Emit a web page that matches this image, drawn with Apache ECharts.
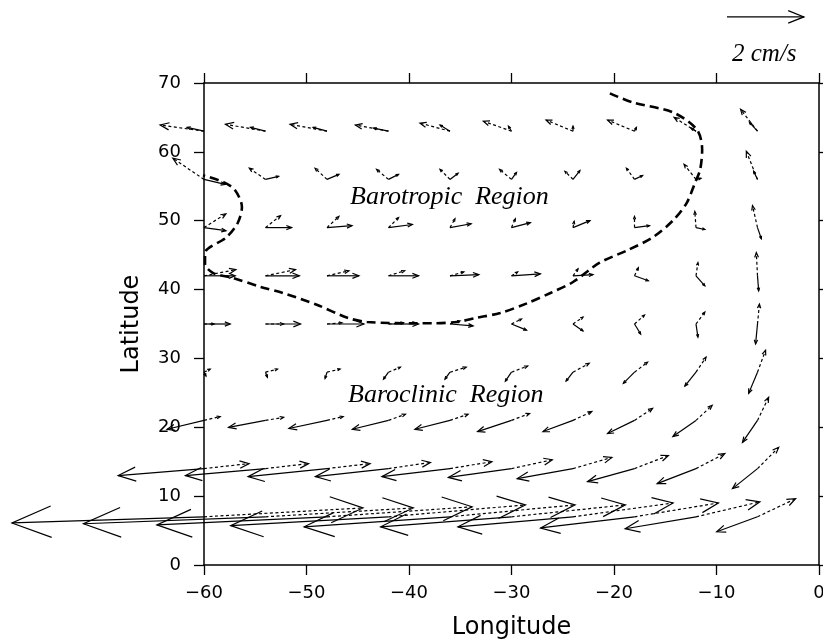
<!DOCTYPE html>
<html><head><meta charset="utf-8">
<script src="https://cdn.jsdelivr.net/npm/echarts@6/dist/echarts.min.js"></script>
<style>html,body{margin:0;background:#fff}#c{width:823px;height:640px}</style>
</head><body><div id="c"></div>
<script>
// Grid of current vectors (cm/s): two layers per station, solid and dotted.
const lons = [-60, -54, -48, -42, -36, -30, -24, -18, -12, -6];
const lats = [63, 56, 49, 42, 35, 28, 21, 14, 7];

const solidU = [
  [-0.44, -0.39, -0.36, -0.39, -0.26, -0.08, 0.00, 0.05, -0.13, -0.21],
  [0.55, 0.34, 0.31, 0.26, 0.21, 0.13, 0.18, 0.21, 0.13, -0.10],
  [0.57, 0.68, 0.65, 0.62, 0.55, 0.49, 0.44, 0.39, 0.23, 0.10],
  [0.81, 0.88, 0.83, 0.78, 0.75, 0.75, 0.52, 0.36, 0.23, 0.03],
  [0.68, 0.91, 0.96, 0.78, 0.60, 0.39, 0.26, 0.16, 0.05, -0.05],
  [0.05, 0.05, -0.05, -0.13, -0.13, -0.16, -0.18, -0.29, -0.29, -0.23],
  [-0.96, -0.96, -0.99, -0.94, -0.91, -0.88, -0.78, -0.70, -0.60, -0.39],
  [-2.23, -2.08, -2.05, -1.90, -1.77, -1.64, -1.45, -1.22, -1.01, -0.65],
  [-4.99, -4.73, -4.42, -4.10, -3.79, -3.40, -2.99, -2.44, -1.84, -1.06]
];
const solidV = [
  [0.10, 0.10, 0.10, 0.08, 0.16, 0.13, 0.13, 0.10, 0.08, 0.23],
  [-0.13, 0.08, 0.13, 0.13, 0.16, 0.18, 0.23, 0.10, 0.03, 0.21],
  [-0.08, 0.00, 0.05, 0.08, 0.10, 0.13, 0.18, 0.05, -0.05, -0.29],
  [0.00, 0.00, 0.00, 0.00, 0.03, 0.05, 0.03, -0.13, -0.26, -0.39],
  [0.00, 0.00, 0.00, 0.00, -0.05, -0.16, -0.18, -0.26, -0.34, -0.52],
  [-0.10, -0.13, -0.16, -0.18, -0.18, -0.23, -0.23, -0.29, -0.36, -0.55],
  [-0.23, -0.18, -0.21, -0.23, -0.23, -0.29, -0.29, -0.34, -0.42, -0.57],
  [-0.18, -0.18, -0.21, -0.21, -0.21, -0.23, -0.26, -0.34, -0.39, -0.52],
  [-0.16, -0.18, -0.21, -0.23, -0.26, -0.26, -0.26, -0.29, -0.31, -0.39]
];
const dottedU = [
  [-1.14, -1.04, -0.96, -0.86, -0.78, -0.73, -0.70, -0.70, -0.57, -0.44],
  [-0.81, -0.42, -0.31, -0.31, -0.26, -0.31, -0.21, -0.21, -0.31, -0.29],
  [0.57, 0.39, 0.31, 0.26, 0.13, 0.10, 0.03, 0.00, -0.03, -0.13],
  [0.83, 0.78, 0.57, 0.42, 0.36, 0.16, 0.13, 0.10, 0.05, -0.03],
  [0.26, 0.47, 0.39, 0.39, 0.26, 0.26, 0.26, 0.26, 0.23, 0.05],
  [0.16, 0.31, 0.34, 0.31, 0.42, 0.42, 0.42, 0.34, 0.26, 0.21],
  [0.42, 0.47, 0.42, 0.44, 0.47, 0.47, 0.49, 0.47, 0.42, 0.29],
  [1.17, 1.12, 1.12, 1.09, 1.09, 1.06, 1.01, 0.88, 0.75, 0.55],
  [4.13, 3.84, 3.77, 3.56, 3.25, 2.96, 2.60, 2.18, 1.66, 0.99]
];
const dottedV = [
  [0.16, 0.18, 0.18, 0.16, 0.21, 0.26, 0.29, 0.29, 0.36, 0.57],
  [0.55, 0.29, 0.29, 0.26, 0.26, 0.26, 0.21, 0.29, 0.39, 0.73],
  [0.36, 0.31, 0.29, 0.26, 0.23, 0.23, 0.16, 0.29, 0.42, 0.57],
  [0.16, 0.16, 0.13, 0.13, 0.10, 0.10, 0.18, 0.21, 0.34, 0.60],
  [0.00, 0.00, 0.03, 0.03, 0.08, 0.13, 0.18, 0.23, 0.31, 0.52],
  [0.08, 0.08, 0.08, 0.13, 0.13, 0.16, 0.23, 0.26, 0.39, 0.57],
  [0.10, 0.08, 0.10, 0.16, 0.16, 0.18, 0.23, 0.31, 0.39, 0.60],
  [0.13, 0.13, 0.13, 0.16, 0.18, 0.23, 0.29, 0.34, 0.39, 0.55],
  [0.23, 0.23, 0.26, 0.31, 0.31, 0.31, 0.36, 0.36, 0.39, 0.47]
];

// Boundary between the barotropic and baroclinic regimes
const boundaryLon = [-20.4, -18.2, -14.2, -11.9, -11.4, -11.6, -12.1, -12.9, -14.2, -16.2, -18.7, -21.4, -24.0, -26.2, -28.5, -31.1, -33.4, -35.3, -37.7, -39.2, -44.1, -46.0, -49.0, -52.3, -54.5, -57.2, -59.1, -59.9, -59.9, -57.8, -56.7, -56.3, -57.0, -58.1, -60.1];
const boundaryLat = [68.5, 67.2, 65.7, 63.2, 60.3, 57.4, 55.5, 52.6, 50.1, 47.6, 45.7, 43.9, 41.1, 39.5, 38.0, 36.6, 35.9, 35.3, 35.1, 35.1, 35.3, 35.9, 37.8, 39.5, 40.4, 41.7, 42.4, 43.7, 45.3, 47.6, 49.7, 52.0, 54.5, 55.6, 56.6];

// Scale key: 2 cm/s
const keyArrow = [[-8.98, 79.6, 2, 0]];
const keyLabel = '2 cm/s';

// Vector length: one cm/s drawn as this many degrees of longitude
const LON_PER_CMS = 3.755;

function buildData(U, V) {
  const out = [];
  lats.forEach((la, i) => lons.forEach((lo, j) => out.push([lo, la, U[i][j], V[i][j]])));
  return out;
}

function arrowRenderer(dashed) {
  return function (params, api) {
    const p = api.coord([api.value(0), api.value(1)]);
    const k = api.size([LON_PER_CMS, 0])[0];
    const dx = api.value(2) * k, dy = -api.value(3) * k;
    const L = Math.hypot(dx, dy);
    const h = [p[0] + dx, p[1] + dy];
    const children = [{
      type: 'polyline',
      shape: { points: [p, h] },
      style: { stroke: '#000', lineWidth: 1.2, fill: null, lineDash: dashed ? [3, 2.5] : null }
    }];
    if (L > 0.5) {
      const a = Math.atan2(dy, dx), hl = Math.max(3, 0.22 * L), w = 0.38;
      children.push({
        type: 'polyline',
        shape: { points: [
          [h[0] - hl * Math.cos(a - w), h[1] - hl * Math.sin(a - w)], h,
          [h[0] - hl * Math.cos(a + w), h[1] - hl * Math.sin(a + w)]
        ] },
        style: { stroke: '#000', lineWidth: 1.2, fill: null }
      });
    }
    return { type: 'group', children };
  };
}

const minus = v => String(v).replace('-', '\u2212');
const tickFont = { fontFamily: 'DejaVu Sans', fontSize: 18, color: '#000' };
const axisLine = { show: true, onZero: false, lineStyle: { color: '#000', width: 1.5 } };
const axisTick = { show: true, inside: false, length: 10, lineStyle: { color: '#000', width: 1.3 } };

const chart = echarts.init(document.getElementById('c'));
chart.setOption({
  animation: false,
  backgroundColor: '#fff',
  grid: { left: 204, right: 4, top: 83, bottom: 75, containLabel: false, outerBoundsMode: 'none' },
  xAxis: [
    { type: 'value', position: 'bottom', min: -60, max: 0, interval: 10,
      axisLine, axisTick, splitLine: { show: false },
      axisLabel: Object.assign({ margin: 19, formatter: minus }, tickFont),
      name: 'Longitude', nameLocation: 'middle', nameGap: 51,
      nameTextStyle: { fontFamily: 'DejaVu Sans', fontSize: 24, color: '#000' } },
    { type: 'value', position: 'top', min: -60, max: 0, interval: 10,
      axisLine, axisTick, splitLine: { show: false }, axisLabel: { show: false } }
  ],
  yAxis: [
    { type: 'value', position: 'left', min: 0, max: 70, interval: 10,
      axisLine, axisTick, splitLine: { show: false },
      axisLabel: Object.assign({ margin: 23 }, tickFont),
      name: 'Latitude', nameLocation: 'middle', nameGap: 60,
      nameTextStyle: { fontFamily: 'DejaVu Sans', fontSize: 24, color: '#000' } },
    { type: 'value', position: 'right', min: 0, max: 70, interval: 10,
      axisLine, axisTick: Object.assign({}, axisTick, { length: 6 }),
      splitLine: { show: false }, axisLabel: { show: false } }
  ],
  series: [
    { type: 'line', data: boundaryLon.map((lo, i) => [lo, boundaryLat[i]]),
      showSymbol: false, smooth: 0.3, clip: false,
      lineStyle: { color: '#000', width: 2.6, type: [9, 5] } },
    { type: 'custom', name: 'solid', clip: false, renderItem: arrowRenderer(false),
      data: buildData(solidU, solidV) },
    { type: 'custom', name: 'dotted', clip: false, renderItem: arrowRenderer(true),
      data: buildData(dottedU, dottedV) },
    { type: 'custom', name: 'key', clip: false, renderItem: arrowRenderer(false),
      data: keyArrow }
  ],
  graphic: [
    { type: 'text', left: 350, top: 184,
      style: { text: 'Barotropic  Region', font: 'italic 26px "Liberation Serif"', fill: '#000' } },
    { type: 'text', left: 348, top: 382,
      style: { text: 'Baroclinic  Region', font: 'italic 26px "Liberation Serif"', fill: '#000' } },
    { type: 'text', left: 732, top: 42,
      style: { text: keyLabel, font: 'italic 25px "Liberation Serif"', fill: '#000' } }
  ]
});
</script></body></html>
